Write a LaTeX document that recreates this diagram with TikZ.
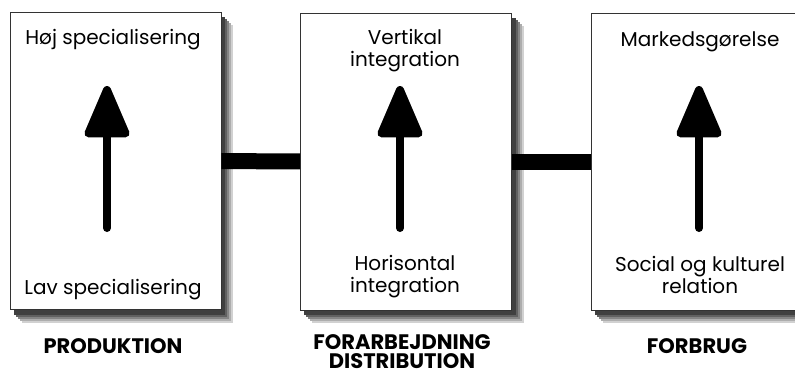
\documentclass[tikz,border=0pt]{standalone}
\usepackage{fontspec}
\setmainfont{Poppins}
\usetikzlibrary{arrows.meta,calc}
\pgfdeclarelayer{shade}
\pgfsetlayers{shade,main}

\begin{document}
\begin{tikzpicture}[x=1pt,y=-1pt,
    box/.style = {draw=black!80, line width=0.9pt, fill=white,
      minimum width=211pt, minimum height=297pt},
    lbl/.style = {font=\fontsize{20}{22}\selectfont, align=center},
    title/.style = {font=\bfseries\fontsize{21}{19}\selectfont, align=center},
    link/.style = {line width=16pt},
    rise/.style = {line width=8pt, line cap=round,
      -{Triangle[width=47pt,length=58pt,round]}}]
  \useasboundingbox (0,0) rectangle (795,376);
  % boxes
  \node[box] (prod) at (115.5,161) {};
  \node[box] (dist) at (406,161.5) {};
  \node[box] (forb) at (696.5,161.5) {};
  \begin{pgfonlayer}{shade}
    \foreach \n in {prod,dist,forb}{
      \fill[black!18] ($(\n.north west)+(12,13)$) rectangle ($(\n.south east)+(12,13)$);
      \fill[black!32] ($(\n.north west)+(10,11)$) rectangle ($(\n.south east)+(10,11)$);
      \fill[black!48] ($(\n.north west)+(8,9)$) rectangle ($(\n.south east)+(8,9)$);
      \fill[black!62] ($(\n.north west)+(6,7)$) rectangle ($(\n.south east)+(6,7)$);
      \fill[black!75] ($(\n.north west)+(4,5)$) rectangle ($(\n.south east)+(4,5)$);
    }
  \end{pgfonlayer}
  \draw[link] (prod) -- (dist);
  \draw[link] (dist) -- (forb);
  % arrows
  \coordinate (p0) at (107,228); \coordinate (p1) at (107,86);
  \coordinate (d0) at (400,228); \coordinate (d1) at (400,86);
  \coordinate (f0) at (699,228); \coordinate (f1) at (699,86);
  \draw[rise] (p0) -- (p1);
  \draw[rise] (d0) -- (d1);
  \draw[rise] (f0) -- (f1);
  % texts
  \node[lbl] (hoj) at (113,40) {Høj specialisering};
  \node[lbl] (lav) at (113,290) {Lav specialisering};
  \node[lbl] (vert) at (405,51) {Vertikal\\integration};
  \node[lbl] (hori) at (405,277) {Horisontal\\integration};
  \node[lbl] (mark) at (700,42) {Markedsgørelse};
  \node[lbl] (soc) at (700,275) {Social og kulturel\\relation};
  \node[title] (produktion) at (113,346) {PRODUKTION};
  \node[title] (forarb) at (402,352) {FORARBEJDNING\\DISTRIBUTION};
  \node[title] (forbrug) at (697,346) {FORBRUG};
\end{tikzpicture}
\end{document}
